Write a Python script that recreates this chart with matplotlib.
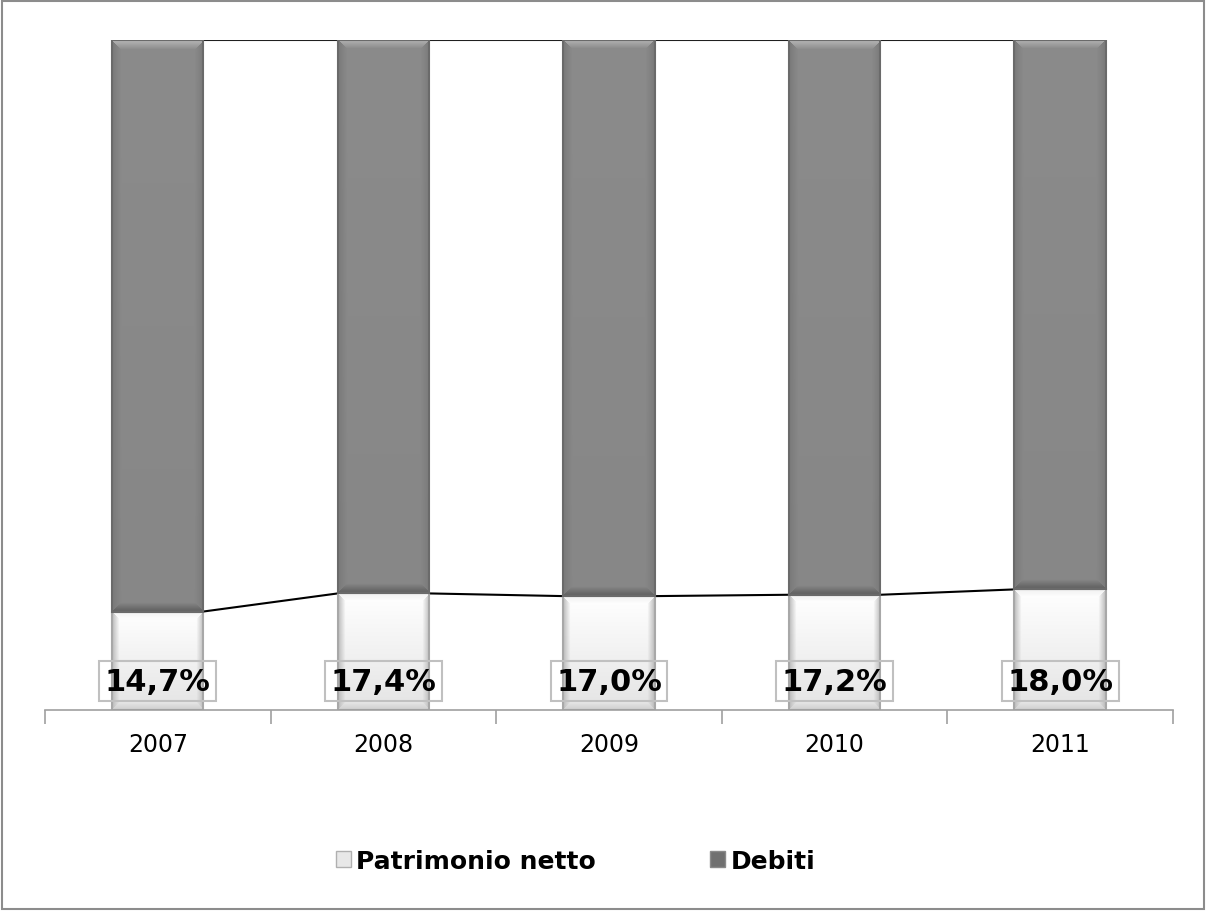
import numpy as np
import matplotlib
matplotlib.use('Agg')
import matplotlib.pyplot as plt
from matplotlib.patches import Rectangle, Patch

years = ['2007', '2008', '2009', '2010', '2011']
patrimonio = [14.7, 17.4, 17.0, 17.2, 18.0]
debiti = [85.3, 82.6, 83.0, 82.8, 82.0]
labels = ['14,7%', '17,4%', '17,0%', '17,2%', '18,0%']

plt.rcParams['font.family'] = ['DejaVu Sans']

fig = plt.figure(figsize=(12.06, 9.12), dpi=100)
ax = fig.add_axes([0.0373, 0.2204, 0.9353, 0.7346])
x = np.arange(len(years))
w = 0.405


def bevel(wpx, hpx, ctop, cbot, side, top, bottom, bev=8):
    rows = np.arange(hpx)[:, None] * np.ones((1, wpx))
    cols = np.ones((hpx, 1)) * np.arange(wpx)[None, :]
    dl, dr = cols, wpx - 1 - cols
    dt, db = rows, hpx - 1 - rows
    dside = np.minimum(dl, dr)
    m = np.minimum(np.minimum(dside, dt), db)
    t = np.clip(m / bev, 0, 1)[..., None]
    rgb = lambda c: np.array(matplotlib.colors.to_rgb(c))
    v = (rows / max(hpx - 1, 1))[..., None]
    center = rgb(ctop) * (1 - v) + rgb(cbot) * v
    edgec = np.where((dt <= np.minimum(dside, db))[..., None], rgb(top),
                     np.where((db <= dside)[..., None], rgb(bottom), rgb(side)))
    return edgec * (1 - t) + center * t


ax.set_xlim(-0.5, len(years) - 0.5)
ax.set_ylim(0, 100)

b1 = ax.bar(x, patrimonio, w, color='none', edgecolor='none', zorder=2)
b2 = ax.bar(x, debiti, w, bottom=patrimonio, color='none', edgecolor='none', zorder=2)

px_per_x = 0.9353 * 1206 / len(years)
px_per_y = 0.7346 * 912 / 100
styles = [(b1, ('#ffffff', '#e4e4e4', '#bdbdbd', '#f0f0f0', '#cfcfcf'), '#a8a8a8', 7),
          (b2, ('#8b8b8b', '#878787', '#7a7a7a', '#b5b5b5', '#5e5e5e'), '#6a6a6a', 9)]
for bars, cols, ec, bv in styles:
    for r in bars:
        x0, y0 = r.get_x(), r.get_y()
        rw, rh = r.get_width(), r.get_height()
        img = bevel(max(int(rw * px_per_x), 2), max(int(rh * px_per_y), 2), *cols, bev=bv)
        ax.imshow(img, extent=(x0, x0 + rw, y0, y0 + rh), aspect='auto',
                  origin='upper', zorder=2, interpolation='bilinear')
        ax.add_patch(Rectangle((x0, y0), rw, rh, fill=False, ec=ec, lw=1.5, zorder=3))

# series lines
for i in range(len(years) - 1):
    ax.plot([x[i] + w / 2, x[i + 1] - w / 2], [patrimonio[i], patrimonio[i + 1]],
            color='black', lw=1.5, zorder=1)
    tot_i = patrimonio[i] + debiti[i]
    tot_j = patrimonio[i + 1] + debiti[i + 1]
    ax.plot([x[i] + w / 2, x[i + 1] - w / 2], [tot_i, tot_j], color='#202020', lw=1.5, zorder=1)

for xi, lab in zip(x, labels):
    ax.text(xi, 4.3, lab, ha='center', va='center', fontsize=22, fontweight='bold',
            zorder=5, bbox=dict(boxstyle='square,pad=0.18', fc='none', ec='#c0c0c0', lw=1.5))

ax.set_xlim(-0.5, len(years) - 0.5)
ax.set_ylim(0, 100)
for s in ['top', 'left', 'right']:
    ax.spines[s].set_visible(False)
ax.spines['bottom'].set_color('#a0a0a0')
ax.spines['bottom'].set_linewidth(1.2)
ax.spines['bottom'].set_zorder(4)
ax.set_yticks([])
ax.set_xticks(np.arange(-0.5, len(years), 1.0))
ax.set_xticklabels([])
ax.tick_params(axis='x', which='major', length=10, width=1.2, color='#a0a0a0', direction='out')
ax.set_xticks(x, minor=True)
ax.set_xticklabels(years, minor=True, fontsize=17)
ax.tick_params(axis='x', which='minor', length=0, pad=16)

handles = [Patch(facecolor='#e8e8e8', edgecolor='#b0b0b0', label='Patrimonio netto'),
           Patch(facecolor='#707070', edgecolor='#8a8a8a', label='Debiti')]
fig.legend(handles=handles, loc='center', bbox_to_anchor=(0.477, 0.055), ncol=2, frameon=False,
           prop={'size': 18, 'weight': 'bold'}, handlelength=0.6, handleheight=0.6,
           handletextpad=0.2, columnspacing=4.6)

fig.patches.append(Rectangle((0.002, 0.002), 0.996, 0.996, transform=fig.transFigure,
                             fill=False, ec='#8c8c8c', lw=1.5))
fig.savefig('out.png', dpi=100)
